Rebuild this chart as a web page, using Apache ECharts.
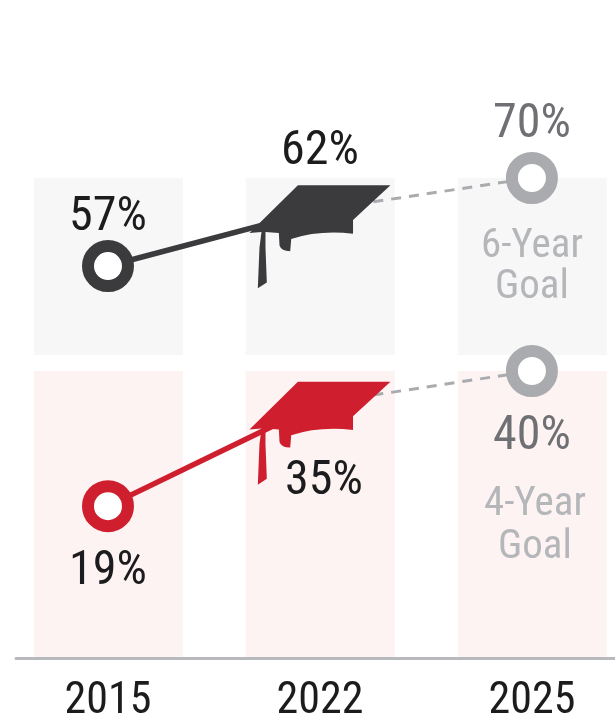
<!DOCTYPE html>
<html><head><meta charset="utf-8">
<style>html,body{margin:0;padding:0;background:#fff}#c{width:615px;height:721px}</style>
<script src="https://cdn.jsdelivr.net/npm/echarts@6/dist/echarts.min.js"></script>
</head><body><div id="c"></div>
<script>
const years = ['2015', '2022', '2025'];
// Published rates, shown as the labels.
const sixYearRates = [57, 62, 70];
const fourYearRates = [19, 35, 40];
// Heights as drawn in the picture: its 2022 six-year mark sits above a strict linear scale.
const sixYearDrawn = [57, 65.3, 70];
const fourYearDrawn = [19, 35, 40];
const goalNames = ['6-Year\nGoal', '4-Year\nGoal'];

const FONT = '"Roboto Condensed","Roboto",sans-serif';
const DARK = '#3b3b3d', RED = '#cf1f2e', GREY = '#a9abae', TEXT = '#1c1c1e', GOALTEXT = '#6f7073', PALE = '#b4b6b9';
const CAP = 'path://M205 45L482 45L370 150L370 192Q270 180 185 208L182 245Q155 245 150 228L148 190L108 187L108 235L112 340L85 358L90 235L96 187L60 190Z';

const idx = years.map((_, i) => i);
const pts = arr => arr.map((v, i) => [i, v]);
const xBase = {type: 'value', min: -0.434, max: 2.392, splitLine: {show: false}, axisTick: {show: false}};

function band(gridIndex, color, lo, hi) {
  return {
    type: 'custom', xAxisIndex: gridIndex, yAxisIndex: gridIndex, z: 0, silent: true,
    data: idx.map(i => [i, lo, hi]), clip: false,
    encode: {x: 0, y: [1, 2]},
    renderItem(p, api) {
      const a = api.coord([api.value(0) - 0.35, api.value(2)]);
      const b = api.coord([api.value(0) + 0.353, api.value(1)]);
      return {type: 'rect', shape: {x: a[0], y: a[1], width: b[0] - a[0], height: b[1] - a[1]}, style: {fill: color}};
    }
  };
}
function panel(g, drawn, rates, color, capOffset, labelOffsets, goal, goalOffset, goalLH) {
  const lab = {fontFamily: FONT, fontSize: 48, show: true};
  const hidden = {color: 'transparent', borderWidth: 0, opacity: 1};
  return [
    {type: 'line', xAxisIndex: g, yAxisIndex: g, z: 1, clip: false, symbol: 'none',
     data: pts(drawn).slice(1), lineStyle: {color: GREY, width: 3, type: [10, 8]}},
    {type: 'scatter', xAxisIndex: g, yAxisIndex: g, z: 2, clip: false,
     symbol: CAP, symbolSize: [141, 103], symbolOffset: [0, capOffset],
     data: [pts(drawn)[1]], itemStyle: {color, opacity: 1}},
    {type: 'line', xAxisIndex: g, yAxisIndex: g, z: 3, clip: false, symbol: 'none',
     data: pts(drawn).slice(0, 2), lineStyle: {color, width: 5.5}},
    {type: 'scatter', xAxisIndex: g, yAxisIndex: g, z: 4, clip: false, symbolSize: 40,
     data: pts(drawn).map((p, i) => ({
       value: p,
       symbolSize: i === 1 ? 1 : 40,
       itemStyle: i === 1 ? hidden : {color: '#fff', borderWidth: 12, borderColor: i === 2 ? GREY : color, opacity: 1},
       label: {...lab, position: 'inside', offset: labelOffsets[i],
         color: i === 2 ? GOALTEXT : TEXT, formatter: rates[i] + '%'}
     }))},
    {type: 'scatter', xAxisIndex: g, yAxisIndex: g, z: 4, clip: false, symbolSize: 1,
     data: [{value: pts(drawn)[2], itemStyle: hidden,
       label: {...lab, fontSize: 41, lineHeight: goalLH, position: 'inside', offset: goalOffset, color: PALE, formatter: goal}}]}
  ];
}

const chart = echarts.init(document.getElementById('c'), null, {renderer: 'canvas'});
chart.setOption({
  animation: false,
  backgroundColor: '#fff',
  grid: [
    {left: 16, right: 0, top: 178, height: 177, outerBoundsMode: 'none'},
    {left: 16, right: 0, top: 371, height: 287, outerBoundsMode: 'none'}
  ],
  xAxis: [
    {...xBase, gridIndex: 0, show: false},
    {...xBase, gridIndex: 1, position: 'bottom',
     axisLine: {show: true, onZero: false, lineStyle: {color: '#b8b9bd', width: 3}},
     axisLabel: {customValues: idx, margin: 22, fontFamily: FONT, fontSize: 44, hideOverlap: false,
       showMinLabel: true, showMaxLabel: true,
       formatter: v => years[v], color: v => v === 2 ? GOALTEXT : TEXT}}
  ],
  yAxis: [
    {type: 'value', gridIndex: 0, min: 43.86, max: 70, show: false, splitLine: {show: false}},
    {type: 'value', gridIndex: 1, min: -4.6, max: 40, show: false, splitLine: {show: false}}
  ],
  series: [
    band(0, '#f7f7f8', 43.86, 70),
    band(1, '#fdf3f3', -4.6, 40),
    ...panel(0, sixYearDrawn, sixYearRates, DARK, 27, [[0, -48], [0, -58], [0, -53]], goalNames[0], [0, 89], 41),
    ...panel(1, fourYearDrawn, fourYearRates, RED, 30, [[0, 66], [4, 79], [0, 66]], goalNames[1], [3, 155], 43)
  ]
});
</script></body></html>
